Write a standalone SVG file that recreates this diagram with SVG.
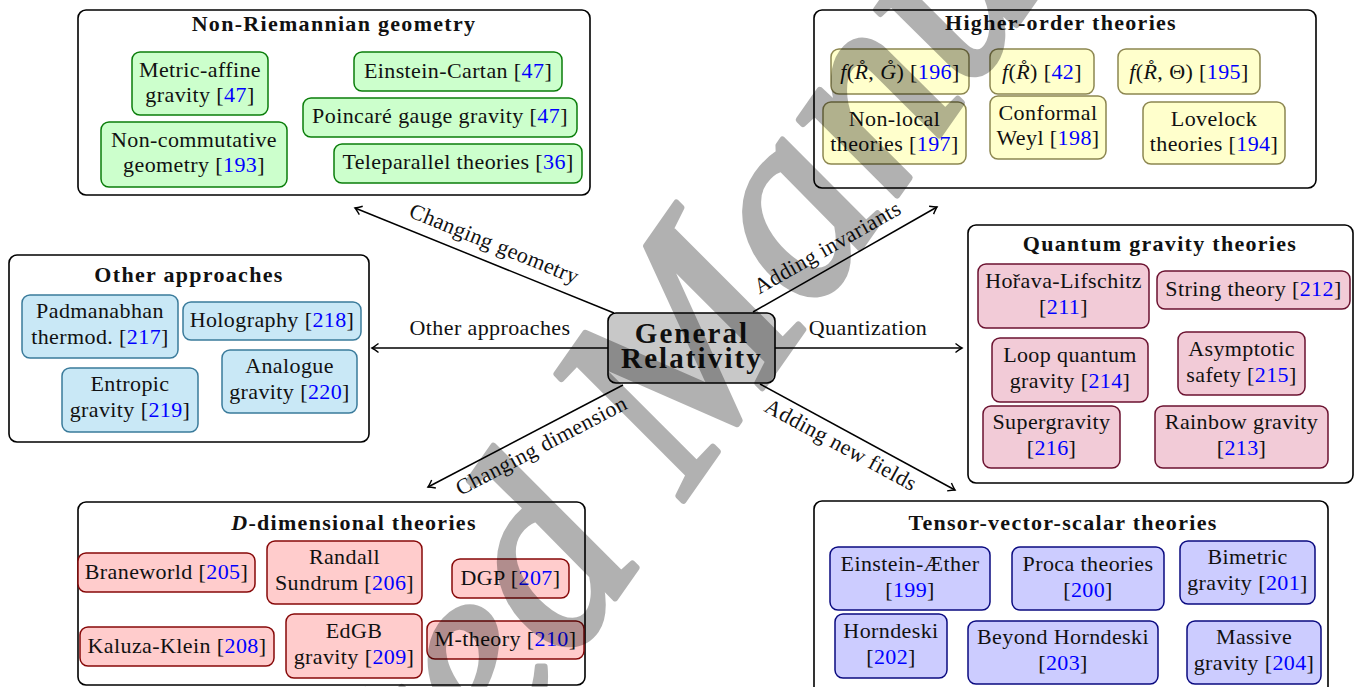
<svg xmlns="http://www.w3.org/2000/svg" width="1357" height="687" viewBox="0 0 1357 687">
<defs>
<style>
.t{font-family:"Liberation Serif","Times New Roman",serif;font-size:22px;letter-spacing:0.4px;fill:#111;text-anchor:middle}
.h{font-weight:bold;letter-spacing:1.3px}
.i{font-style:italic}
.r{fill:#0000ff}
.outer{fill:#fff;stroke:#000;stroke-width:1.6}
.gn rect{fill:#ccffcc;stroke:#0a7d0a;stroke-width:1.5}
.yn rect{fill:#ffffcc;stroke:#8c8650;stroke-width:1.5}
.cn rect{fill:#c9e8f6;stroke:#3a7b9b;stroke-width:1.5}
.pn rect{fill:#f2cbd7;stroke:#6b1230;stroke-width:1.5}
.rn rect{fill:#ffcccc;stroke:#860808;stroke-width:1.5}
.bn rect{fill:#ccccff;stroke:#0a0a80;stroke-width:1.5}
.edge{stroke:#000;stroke-width:1.5;fill:none;marker-end:url(#arr)}
.wm{font-family:"Liberation Serif","Times New Roman",serif;font-style:italic;font-size:270px;fill:#000;stroke:#000;stroke-width:6;stroke-linejoin:round}
</style>
<marker id="arr" viewBox="-8 -6 10 12" markerWidth="10" markerHeight="12" refX="0" refY="0" orient="auto" markerUnits="userSpaceOnUse">
<path d="M-6.5,-4.5 Q-2,-1 0,0 Q-2,1 -6.5,4.5" fill="none" stroke="#000" stroke-width="1.4"/>
</marker>
</defs>
<rect width="1357" height="687" fill="#fff"/>

<g id="connectors">
<line class="edge" x1="614" y1="313" x2="355" y2="208"/>
<line class="edge" x1="608" y1="348" x2="372" y2="348"/>
<line class="edge" x1="623" y1="385" x2="428" y2="487"/>
<line class="edge" x1="753" y1="312" x2="937" y2="207"/>
<line class="edge" x1="775" y1="348" x2="962" y2="348"/>
<line class="edge" x1="760" y1="384" x2="955" y2="490"/>
<text class="t" transform="translate(487,261.5) rotate(22.07)" y="-12">Changing geometry</text>
<text class="t" x="490" y="335">Other approaches</text>
<text class="t" transform="translate(534,431.6) rotate(-27.6)" y="23">Changing dimension</text>
<text class="t" transform="translate(837,264.1) rotate(-29.7)" y="-12">Adding invariants</text>
<text class="t" x="868" y="335">Quantization</text>
<text class="t" transform="translate(848,431.8) rotate(28.5)" y="22">Adding new fields</text>
</g>

<g id="gr">
<rect x="608" y="313" width="167" height="70" rx="8" fill="#c8c8c8" stroke="#000" stroke-width="1.6"/>
<text class="t" style="font-size:29px;font-weight:bold;letter-spacing:2.1px"><tspan x="692" y="343">General</tspan><tspan x="692" y="368">Relativity</tspan></text>
</g>

<g id="non-riemannian">
<rect class="outer" x="78" y="10" width="512" height="185" rx="8"/>
<text class="t h" x="334" y="31">Non-Riemannian geometry</text>
<g class="gn" id="metric-affine"><rect x="132" y="52" width="136" height="63" rx="8"/><text class="t" x="200" y="77">Metric-affine</text><text class="t" x="200" y="102">gravity [<tspan class="r">47</tspan>]</text></g>
<g class="gn" id="non-commutative"><rect x="101" y="122" width="186" height="65" rx="8"/><text class="t" x="194" y="147">Non-commutative</text><text class="t" x="194" y="172">geometry [<tspan class="r">193</tspan>]</text></g>
<g class="gn" id="einstein-cartan"><rect x="354" y="52" width="208" height="39" rx="8"/><text class="t" x="458" y="78">Einstein-Cartan [<tspan class="r">47</tspan>]</text></g>
<g class="gn" id="poincare"><rect x="303" y="98" width="274" height="39" rx="8"/><text class="t" x="440" y="123">Poincaré gauge gravity [<tspan class="r">47</tspan>]</text></g>
<g class="gn" id="teleparallel"><rect x="334" y="144" width="248" height="39" rx="8"/><text class="t" x="458" y="169">Teleparallel theories [<tspan class="r">36</tspan>]</text></g>
</g>

<g id="higher-order">
<rect class="outer" x="814" y="10" width="502" height="178" rx="8"/>
<text class="t h" x="1061" y="30">Higher-order theories</text>
<g class="yn" id="fRG"><rect x="831" y="49" width="138" height="45" rx="8"/><text class="t" x="900" y="79"><tspan class="i">f</tspan>(<tspan class="i">R̊</tspan>, <tspan class="i">G̊</tspan>) [<tspan class="r">196</tspan>]</text></g>
<g class="yn" id="fR"><rect x="990" y="49" width="104" height="45" rx="8"/><text class="t" x="1042" y="79"><tspan class="i">f</tspan>(<tspan class="i">R̊</tspan>) [<tspan class="r">42</tspan>]</text></g>
<g class="yn" id="fRT"><rect x="1118" y="49" width="142" height="45" rx="8"/><text class="t" x="1189" y="79"><tspan class="i">f</tspan>(<tspan class="i">R̊</tspan>, Θ) [<tspan class="r">195</tspan>]</text></g>
<g class="yn" id="non-local"><rect x="823" y="102" width="143" height="62" rx="8"/><text class="t" x="894.5" y="126">Non-local</text><text class="t" x="894.5" y="151">theories [<tspan class="r">197</tspan>]</text></g>
<g class="yn" id="conformal"><rect x="990" y="96" width="116" height="63" rx="8"/><text class="t" x="1048" y="120">Conformal</text><text class="t" x="1048" y="145">Weyl [<tspan class="r">198</tspan>]</text></g>
<g class="yn" id="lovelock"><rect x="1143" y="102" width="142" height="62" rx="8"/><text class="t" x="1214" y="126">Lovelock</text><text class="t" x="1214" y="151">theories [<tspan class="r">194</tspan>]</text></g>
</g>

<g id="other-approaches">
<rect class="outer" x="9" y="255" width="360" height="187" rx="8"/>
<text class="t h" x="189" y="282">Other approaches</text>
<g class="cn" id="padmanabhan"><rect x="22" y="295" width="156" height="63" rx="8"/><text class="t" x="100" y="318">Padmanabhan</text><text class="t" x="100" y="344">thermod. [<tspan class="r">217</tspan>]</text></g>
<g class="cn" id="holography"><rect x="183" y="302" width="178" height="38" rx="8"/><text class="t" x="272" y="327">Holography [<tspan class="r">218</tspan>]</text></g>
<g class="cn" id="entropic"><rect x="62" y="368" width="136" height="64" rx="8"/><text class="t" x="130" y="391">Entropic</text><text class="t" x="130" y="417">gravity [<tspan class="r">219</tspan>]</text></g>
<g class="cn" id="analogue"><rect x="222" y="350" width="135" height="63" rx="8"/><text class="t" x="289.5" y="373">Analogue</text><text class="t" x="289.5" y="399">gravity [<tspan class="r">220</tspan>]</text></g>
</g>

<g id="quantum">
<rect class="outer" x="968" y="225" width="385" height="258" rx="8"/>
<text class="t h" x="1160" y="251">Quantum gravity theories</text>
<g class="pn" id="horava"><rect x="978" y="264" width="171" height="64" rx="8"/><text class="t" x="1063.5" y="288">Hořava-Lifschitz</text><text class="t" x="1063.5" y="314">[<tspan class="r">211</tspan>]</text></g>
<g class="pn" id="string"><rect x="1157" y="271" width="193" height="38" rx="8"/><text class="t" x="1253.5" y="296">String theory [<tspan class="r">212</tspan>]</text></g>
<g class="pn" id="lqg"><rect x="992" y="338" width="156" height="64" rx="8"/><text class="t" x="1070" y="362">Loop quantum</text><text class="t" x="1070" y="388">gravity [<tspan class="r">214</tspan>]</text></g>
<g class="pn" id="asymptotic"><rect x="1178" y="332" width="127" height="63" rx="8"/><text class="t" x="1241.5" y="356">Asymptotic</text><text class="t" x="1241.5" y="382">safety [<tspan class="r">215</tspan>]</text></g>
<g class="pn" id="supergravity"><rect x="983" y="406" width="137" height="62" rx="8"/><text class="t" x="1051.5" y="429">Supergravity</text><text class="t" x="1051.5" y="455">[<tspan class="r">216</tspan>]</text></g>
<g class="pn" id="rainbow"><rect x="1155" y="406" width="173" height="62" rx="8"/><text class="t" x="1241.5" y="429">Rainbow gravity</text><text class="t" x="1241.5" y="455">[<tspan class="r">213</tspan>]</text></g>
</g>

<g id="d-dimensional">
<rect class="outer" x="78" y="502" width="507" height="183" rx="8"/>
<text class="t h" x="354" y="530"><tspan class="i">D</tspan>-dimensional theories</text>
<g class="rn" id="braneworld"><rect x="78" y="553" width="177" height="39" rx="8"/><text class="t" x="166.5" y="579">Braneworld [<tspan class="r">205</tspan>]</text></g>
<g class="rn" id="randall"><rect x="267" y="541" width="155" height="63" rx="8"/><text class="t" x="344.5" y="564">Randall</text><text class="t" x="344.5" y="590">Sundrum [<tspan class="r">206</tspan>]</text></g>
<g class="rn" id="dgp"><rect x="452" y="559" width="117" height="39" rx="8"/><text class="t" x="510.5" y="585">DGP [<tspan class="r">207</tspan>]</text></g>
<g class="rn" id="kaluza"><rect x="80" y="627" width="194" height="39" rx="8"/><text class="t" x="177" y="653">Kaluza-Klein [<tspan class="r">208</tspan>]</text></g>
<g class="rn" id="edgb"><rect x="286" y="614" width="136" height="64" rx="8"/><text class="t" x="354" y="638">EdGB</text><text class="t" x="354" y="664">gravity [<tspan class="r">209</tspan>]</text></g>
<g class="rn" id="mtheory"><rect x="427" y="621" width="157" height="38" rx="8"/><text class="t" x="505.5" y="646">M-theory [<tspan class="r">210</tspan>]</text></g>
</g>

<g id="tensor-vector-scalar">
<rect class="outer" x="814" y="501" width="514" height="200" rx="8"/>
<text class="t h" x="1063" y="530">Tensor-vector-scalar theories</text>
<g class="bn" id="aether"><rect x="830" y="547" width="160" height="63" rx="8"/><text class="t" x="910" y="571">Einstein-Æther</text><text class="t" x="910" y="597">[<tspan class="r">199</tspan>]</text></g>
<g class="bn" id="proca"><rect x="1012" y="547" width="152" height="63" rx="8"/><text class="t" x="1088" y="571">Proca theories</text><text class="t" x="1088" y="597">[<tspan class="r">200</tspan>]</text></g>
<g class="bn" id="bimetric"><rect x="1180" y="541" width="135" height="63" rx="8"/><text class="t" x="1247.5" y="564">Bimetric</text><text class="t" x="1247.5" y="590">gravity [<tspan class="r">201</tspan>]</text></g>
<g class="bn" id="horndeski"><rect x="835" y="614" width="112" height="64" rx="8"/><text class="t" x="891" y="638">Horndeski</text><text class="t" x="891" y="664">[<tspan class="r">202</tspan>]</text></g>
<g class="bn" id="beyond"><rect x="968" y="621" width="190" height="63" rx="8"/><text class="t" x="1063" y="644">Beyond Horndeski</text><text class="t" x="1063" y="670">[<tspan class="r">203</tspan>]</text></g>
<g class="bn" id="massive"><rect x="1187" y="621" width="134" height="63" rx="8"/><text class="t" x="1254" y="644">Massive</text><text class="t" x="1254" y="670">gravity [<tspan class="r">204</tspan>]</text></g>
</g>

<g id="watermark" opacity="0.3">
<text class="wm" transform="translate(79,1364) rotate(-55)">Accepted Manuscript</text>
</g>
</svg>
